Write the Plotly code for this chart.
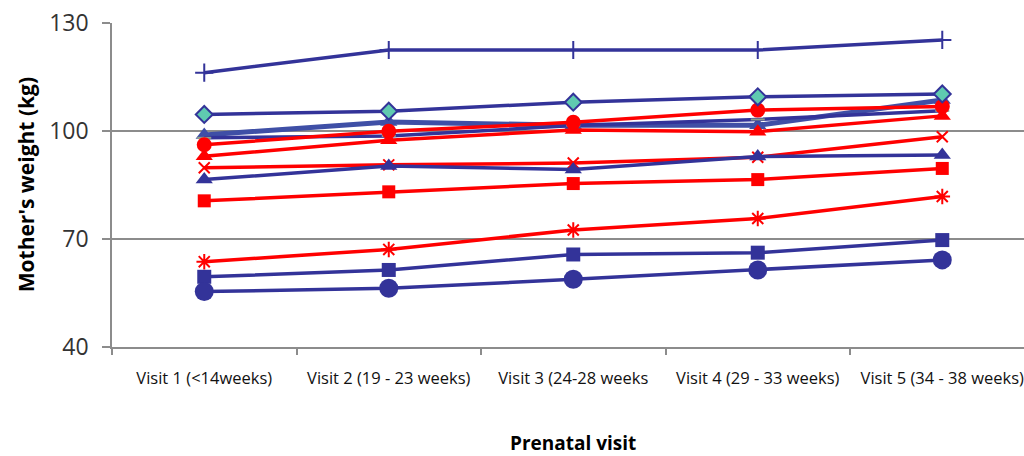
import plotly.graph_objects as go

visits = [
    "Visit 1 (<14weeks)",
    "Visit 2 (19 - 23 weeks)",
    "Visit 3 (24-28 weeks",
    "Visit 4 (29 - 33 weeks)",
    "Visit 5 (34 - 38 weeks)",
]

# Mother's weight (kg) per prenatal visit, one list per participant
w_plus = [116.2, 122.5, 122.5, 122.5, 125.3]
w_diamond = [104.6, 105.5, 108.0, 109.5, 110.3]
w_tri_light = [98.9, 102.5, 101.6, 101.6, 108.6]
w_dash = [98.1, 98.6, 101.5, 103.2, 105.6]
w_red_circle = [96.2, 99.9, 102.4, 105.8, 106.8]
w_red_tri = [93.0, 97.4, 100.3, 99.8, 104.2]
w_red_x = [89.8, 90.6, 91.1, 92.7, 98.4]
w_blue_tri = [86.5, 90.3, 89.3, 92.9, 93.3]
w_red_square = [80.6, 83.1, 85.4, 86.5, 89.6]
w_red_star = [63.7, 67.1, 72.5, 75.7, 81.8]
w_blue_square = [59.5, 61.4, 65.7, 66.2, 69.7]
w_blue_circle = [55.4, 56.3, 58.8, 61.4, 64.2]

y_ticks = [40, 70, 100, 130]

BLUE = "#333399"
BLUE_LIGHT = "#3F4FA6"
RED = "#FF0000"
TEAL = "#5FCAB0"
FONT = "Open Sans, Lato, sans-serif"

fig = go.Figure()


def add(values, color, symbol, size, width=3.5, mline=0, mcolor=None, mfill=None):
    fig.add_trace(go.Scatter(
        x=visits, y=values, mode="lines+markers",
        line=dict(color=color, width=width),
        marker=dict(symbol=symbol, size=size,
                    color=mfill if mfill else color,
                    line=dict(color=mcolor if mcolor else color, width=mline)),
        showlegend=False, hoverinfo="skip",
    ))


add(w_tri_light, BLUE_LIGHT, "triangle-up", 15, width=5)
add(w_dash, BLUE, "line-ew", 10, mline=2, mcolor="#8FA08A")
add(w_red_circle, RED, "circle", 15)
add(w_red_tri, RED, "triangle-up", 15)
add(w_red_x, RED, "x-thin", 11, mline=2)
add(w_blue_tri, BLUE, "triangle-up", 15)
add(w_red_square, RED, "square", 13)
add(w_red_star, RED, "asterisk", 13, mline=2)
add(w_blue_square, BLUE, "square", 14)
add(w_blue_circle, BLUE, "circle", 19)
add(w_diamond, BLUE, "diamond", 13, mline=2, mfill=TEAL)
add(w_plus, BLUE, "cross-thin", 13, mline=2)

fig.update_layout(
    width=1024, height=456,
    margin=dict(l=112, r=0, t=23, b=109),
    paper_bgcolor="white", plot_bgcolor="white",
    font=dict(family=FONT, color="#222222"),
    xaxis=dict(
        type="category", range=[-0.5, 4.443],
        tickson="boundaries", ticks="outside", ticklen=6, tickcolor="#8c8c8c",
        tickwidth=1.5,
        showline=True, linecolor="#8c8c8c", linewidth=1.5,
        showgrid=False, tickfont=dict(size=16.5, color="#111111"),
        ticklabelstandoff=15,
    ),
    yaxis=dict(
        range=[40, 130], tickvals=y_ticks,
        ticks="outside", ticklen=8, tickcolor="#8c8c8c", tickwidth=1.5,
        showline=True, linecolor="#8c8c8c", linewidth=1.5,
        showgrid=True, gridcolor="#8c8c8c", gridwidth=1.5,
        zeroline=False, tickfont=dict(size=23, color="#333333"),
        ticklabelstandoff=9,
    ),
    annotations=[
        dict(text="<b>Mother's weight (kg)</b>", xref="paper", yref="paper",
             x=-0.094, y=0.5, xanchor="center", yanchor="middle",
             textangle=-90, showarrow=False,
             font=dict(size=21, color="#000000")),
        dict(text="<b>Prenatal visit</b>", xref="x", yref="paper",
             x=2, y=-0.296, xanchor="center", yanchor="middle",
             showarrow=False, font=dict(size=19, color="#000000")),
    ],
)

fig.write_html("out.html")
